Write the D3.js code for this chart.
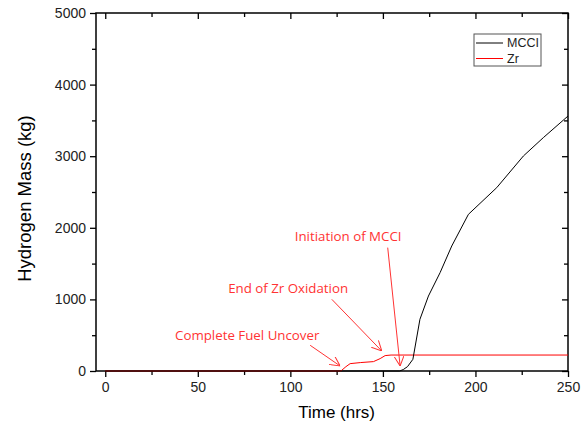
<!DOCTYPE html>
<html>
<head>
<meta charset="utf-8">
<script src="https://cdn.jsdelivr.net/npm/d3@7"></script>
<style>
  body { margin: 0; background: #fff; }
  text { font-family: "Liberation Sans", Arial, sans-serif; }
</style>
</head>
<body>
<div id="chart"></div>
<script>
// hydrogen mass vs time
var zrTime = [0, 127.3, 130, 132.3, 138, 144.9, 148.5, 151.2, 154.4, 250];
var zrMass = [0, 0, 60, 103, 118, 131, 173, 215, 223, 223];

var mcciTime = [0, 159, 161, 163.3, 166.2, 170, 174.6, 180.9, 187.2, 196.2, 211.5, 225.9, 236.7, 250];
var mcciMass = [0, 0, 20, 61, 163, 722, 1047, 1374, 1746, 2188, 2561, 3003, 3260, 3561];

var xTicks = [0, 50, 100, 150, 200, 250];
var yTicks = [0, 1000, 2000, 3000, 4000, 5000];

// annotations: label position and arrow from/to, in data units
var notes = [
  {text: "Complete Fuel Uncover", tx: 76.7, ty: 503, x1: 110.7, y1: 359, x2: 126.9, y2: 70},
  {text: "End of Zr Oxidation", tx: 98.8, ty: 1155, x1: 122.4, y1: 1001, x2: 149.4, y2: 279},
  {text: "Initiation of MCCI", tx: 131.2, ty: 1881, x1: 152.6, y1: 1723, x2: 159.3, y2: 70}
];

var width = 586, height = 430;
var margin = {top: 13, right: 18, bottom: 59, left: 96};

var svg = d3.select("#chart").append("svg")
    .attr("width", width)
    .attr("height", height);

var x = d3.scaleLinear()
    .domain([-5, 250])
    .range([margin.left, width - margin.right]);

var y = d3.scaleLinear()
    .domain([0, 5000])
    .range([height - margin.bottom, margin.top]);

var minorX = d3.range(25, 250, 50);
var minorY = d3.range(500, 5000, 1000);

function tickStyle(g) {
  g.select(".domain").remove();
  g.selectAll(".tick line").attr("stroke", "#000").attr("stroke-width", 1.3);
  g.selectAll(".tick text").attr("fill", "#222").style("font-size", "14px");
}

// bottom
svg.append("g")
    .attr("transform", "translate(0," + y(0) + ")")
    .call(d3.axisBottom(x).tickValues(xTicks).tickSize(6).tickPadding(5).tickFormat(d3.format("d")))
    .call(tickStyle);
svg.append("g")
    .attr("transform", "translate(0," + y(0) + ")")
    .call(d3.axisBottom(x).tickValues(minorX).tickSize(4).tickFormat(""))
    .call(tickStyle);

// left
svg.append("g")
    .attr("transform", "translate(" + x(-5) + ",0)")
    .call(d3.axisLeft(y).tickValues(yTicks).tickSize(6).tickPadding(4).tickFormat(d3.format("d")))
    .call(tickStyle);
svg.append("g")
    .attr("transform", "translate(" + x(-5) + ",0)")
    .call(d3.axisLeft(y).tickValues(minorY).tickSize(4).tickFormat(""))
    .call(tickStyle);

// top, inward
svg.append("g")
    .attr("transform", "translate(0," + y(5000) + ")")
    .call(d3.axisBottom(x).tickValues(xTicks).tickSize(6).tickFormat(""))
    .call(tickStyle);
svg.append("g")
    .attr("transform", "translate(0," + y(5000) + ")")
    .call(d3.axisBottom(x).tickValues(minorX).tickSize(4).tickFormat(""))
    .call(tickStyle);

// right, inward
svg.append("g")
    .attr("transform", "translate(" + x(250) + ",0)")
    .call(d3.axisLeft(y).tickValues(yTicks).tickSize(6).tickFormat(""))
    .call(tickStyle);
svg.append("g")
    .attr("transform", "translate(" + x(250) + ",0)")
    .call(d3.axisLeft(y).tickValues(minorY).tickSize(4).tickFormat(""))
    .call(tickStyle);

// frame
svg.append("rect")
    .attr("x", x(-5))
    .attr("y", y(5000))
    .attr("width", x(250) - x(-5))
    .attr("height", y(0) - y(5000))
    .attr("fill", "none")
    .attr("stroke", "#000")
    .attr("stroke-width", 1.5);

var line = d3.line()
    .x(function(d) { return x(d[0]); })
    .y(function(d) { return y(d[1]); });

svg.append("path")
    .datum(d3.zip(zrTime, zrMass))
    .attr("fill", "none")
    .attr("stroke", "#ff0000")
    .attr("stroke-width", 1)
    .attr("d", line);

svg.append("path")
    .datum(d3.zip(mcciTime, mcciMass))
    .attr("fill", "none")
    .attr("stroke", "#000")
    .attr("stroke-width", 1)
    .attr("d", line);

// annotations
svg.append("defs").append("marker")
    .attr("id", "arrow")
    .attr("viewBox", "0 0 10 10")
    .attr("refX", 10)
    .attr("refY", 5)
    .attr("markerWidth", 10)
    .attr("markerHeight", 10)
    .attr("markerUnits", "userSpaceOnUse")
    .attr("orient", "auto")
  .append("path")
    .attr("d", "M0,0 L10,5 L0,10")
    .attr("fill", "none")
    .attr("stroke", "#ff3333")
    .attr("stroke-width", 1);

var note = svg.selectAll(".note")
    .data(notes)
  .enter().append("g")
    .attr("class", "note");

note.append("line")
    .attr("x1", function(d) { return x(d.x1); })
    .attr("y1", function(d) { return y(d.y1); })
    .attr("x2", function(d) { return x(d.x2); })
    .attr("y2", function(d) { return y(d.y2); })
    .attr("stroke", "#ff3333")
    .attr("stroke-width", 1)
    .attr("marker-end", "url(#arrow)");

note.append("text")
    .attr("x", function(d) { return x(d.tx); })
    .attr("y", function(d) { return y(d.ty); })
    .attr("text-anchor", "middle")
    .attr("dy", "0.35em")
    .attr("fill", "#ff3333")
    .style("font-family", "'Open Sans', sans-serif")
    .style("font-size", "13.3px")
    .text(function(d) { return d.text; });

// legend
var legend = svg.append("g")
    .attr("transform", "translate(474,34)");

legend.append("rect")
    .attr("width", 67)
    .attr("height", 32)
    .attr("fill", "#fff")
    .attr("stroke", "#555")
    .attr("stroke-width", 1);

var legendItems = [{name: "MCCI", color: "#000"}, {name: "Zr", color: "#ff0000"}];

var item = legend.selectAll(".item")
    .data(legendItems)
  .enter().append("g")
    .attr("class", "item")
    .attr("transform", function(d, i) { return "translate(0," + (9 + i * 15.5) + ")"; });

item.append("line")
    .attr("x1", 2)
    .attr("x2", 29)
    .attr("stroke", function(d) { return d.color; })
    .attr("stroke-width", 1);

item.append("text")
    .attr("x", 33)
    .attr("dy", "0.35em")
    .attr("fill", "#222")
    .style("font-size", "12.5px")
    .text(function(d) { return d.name; });

// axis titles
svg.append("text")
    .attr("x", x(125))
    .attr("y", 418)
    .attr("text-anchor", "middle")
    .style("font-size", "17px")
    .text("Time (hrs)");

svg.append("text")
    .attr("transform", "translate(31," + 198.5 + ") rotate(-90)")
    .attr("text-anchor", "middle")
    .style("font-size", "18.5px")
    .text("Hydrogen Mass (kg)");
</script>
</body>
</html>
